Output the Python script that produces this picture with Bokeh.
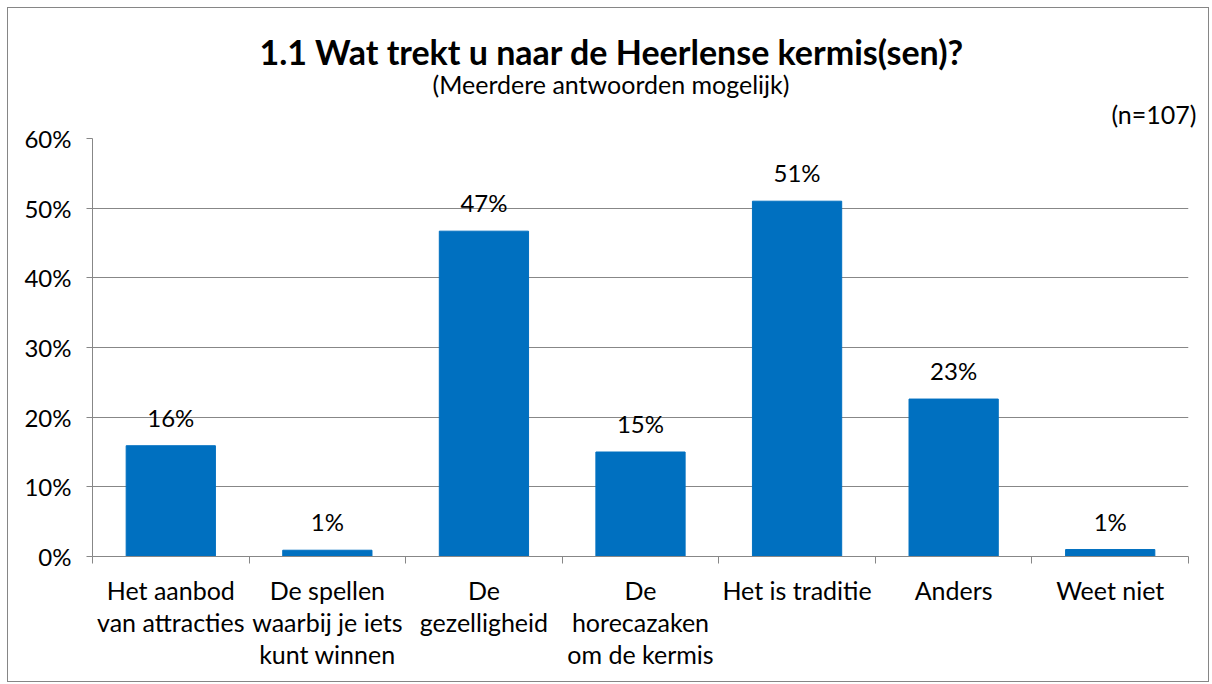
from bokeh.plotting import figure
from bokeh.models import ColumnDataSource, Range1d, FixedTicker, LabelSet, Title, NumeralTickFormatter
from bokeh.core.properties import value
from bokeh.embed import file_html
from bokeh.resources import INLINE

categories = ["Het aanbod\nvan attracties", "De spellen\nwaarbij je iets\nkunt winnen", "De\ngezelligheid",
              "De\nhorecazaken\nom de kermis", "Het is traditie", "Anders", "Weet niet"]
values = [0.159, 0.009, 0.467, 0.150, 0.510, 0.226, 0.010]
value_labels = ["16%", "1%", "47%", "15%", "51%", "23%", "1%"]
y_ticks = [0.0, 0.1, 0.2, 0.3, 0.4, 0.5, 0.6]
title_text = "1.1 Wat trekt u naar de Heerlense kermis(sen)?"
subtitle_text = "(Meerdere antwoorden mogelijk)"
n_text = "(n=107)"

FONT = "Lato"
GRAY = "#878787"
BLUE = "#0070C0"

n = len(categories)
centers = [i + 0.5 for i in range(n)]
src = ColumnDataSource(dict(x=centers, top=values, lab=value_labels))

p = figure(width=1202, height=675, output_backend="svg", toolbar_location=None,
           x_range=Range1d(0, n), y_range=Range1d(0, 0.6),
           min_border_left=84, min_border_right=22, min_border_top=130, min_border_bottom=127)
p.margin = (7, 0, 0, 7)
p.styles = {"border": "1px solid #868686"}
p.outline_line_color = None
p.background_fill_color = "white"
p.border_fill_color = "white"

p.vbar(x="x", top="top", width=0.57, source=src, color=BLUE)

p.add_layout(LabelSet(x="x", y="top", text="lab", source=src, text_align="center",
                      text_baseline="bottom", y_offset=14, text_font=value(FONT),
                      text_font_size="24px", text_color="#000000"))

xa = p.xaxis[0]
xa.ticker = FixedTicker(ticks=centers, minor_ticks=list(range(n + 1)))
xa.major_label_overrides = {c: lab for c, lab in zip(centers, categories)}
xa.major_tick_out = 0
xa.major_tick_in = 0
xa.minor_tick_out = 7
xa.minor_tick_in = 0
xa.minor_tick_line_color = GRAY
xa.axis_line_color = GRAY
xa.major_label_standoff = 11
xa.major_label_text_font = FONT
xa.major_label_text_font_size = "25px"
xa.major_label_text_line_height = 1.07
xa.major_label_text_color = "#000000"
xa.major_label_orientation = "horizontal"

ya = p.yaxis[0]
ya.ticker = FixedTicker(ticks=y_ticks)
ya.formatter = NumeralTickFormatter(format="0%")
ya.major_tick_out = 6
ya.major_tick_in = 0
ya.minor_tick_line_color = None
ya.major_tick_line_color = GRAY
ya.axis_line_color = GRAY
ya.major_label_standoff = 15
ya.major_label_text_font = FONT
ya.major_label_text_font_size = "24px"
ya.major_label_text_color = "#000000"

p.xgrid.grid_line_color = None
p.ygrid.grid_line_color = GRAY
p.ygrid.grid_line_width = 1
p.ygrid.ticker = FixedTicker(ticks=y_ticks)

# main title (outermost panel)
p.title.text = title_text
p.title.align = "left"
p.title.offset = 167
p.title.standoff = 14
p.title.text_font = FONT
p.title.text_font_size = "34px"
p.title.text_font_style = "bold"
p.title.text_color = "#000000"

# panels added to "above": first added sits nearest the frame
p.add_layout(Title(text=n_text, align="right", offset=-8, standoff=20,
                   text_font=FONT, text_font_size="25px", text_font_style="normal",
                   text_color="#000000"), "above")
p.add_layout(Title(text=subtitle_text, align="left", offset=340, standoff=-24,
                   text_font=FONT, text_font_size="25px", text_font_style="normal",
                   text_color="#000000"), "above")

open("out.html", "w").write(file_html(p, INLINE))
